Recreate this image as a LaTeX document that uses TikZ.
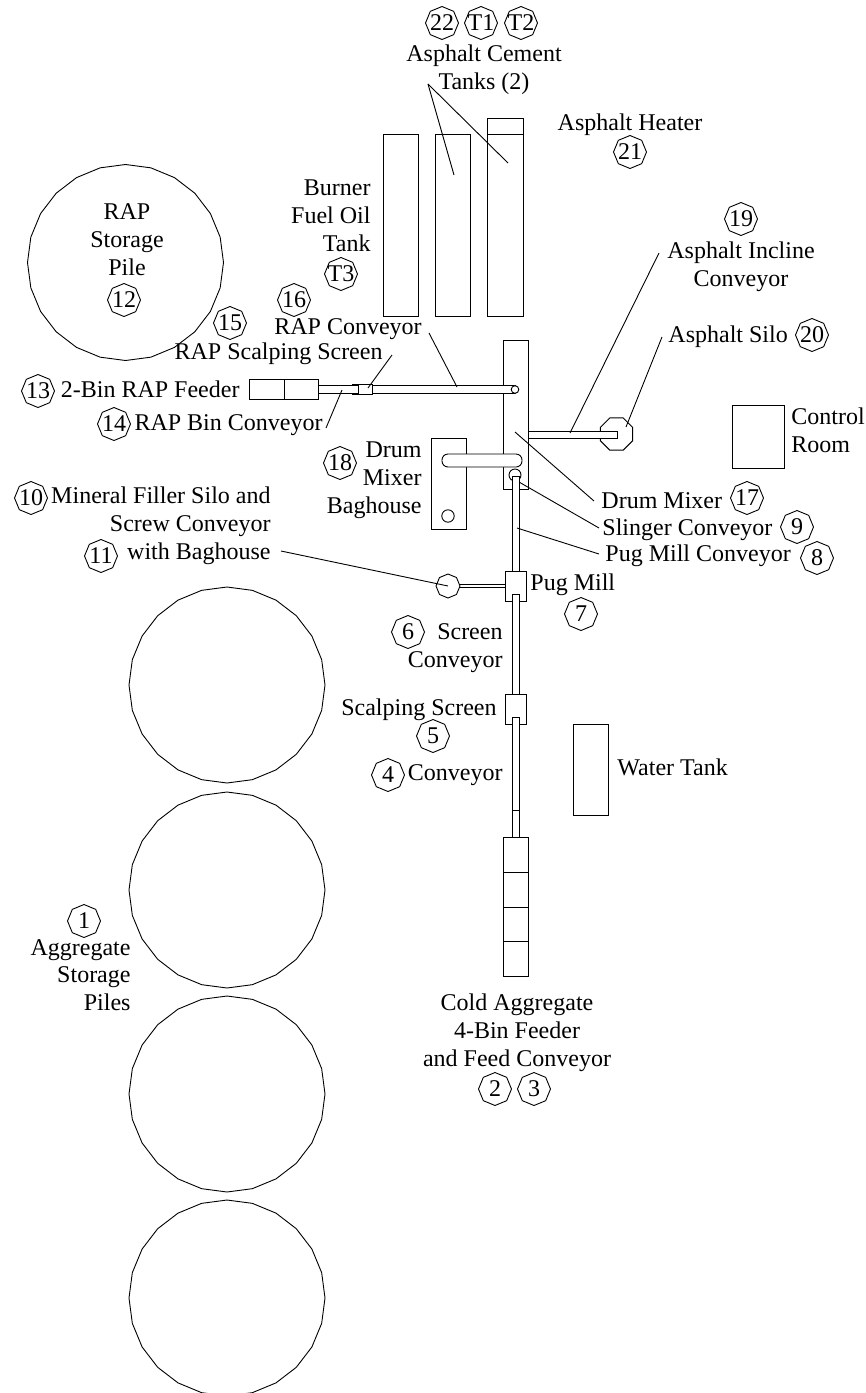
\documentclass[tikz,border=0pt]{standalone}
\usepackage{fontspec}
\setmainfont{Liberation Serif}
\usepackage{tikz}
\usetikzlibrary{shapes.geometric}
\tikzset{
    plantfont/.style={font=\fontsize{24}{27.8}\selectfont, inner sep=0pt},
    plantlabel/.style={plantfont, yshift=-2.5pt},
    badge/.style={plantfont, draw, regular polygon, regular polygon sides=8, regular polygon rotate=22.5, minimum size=33pt},
    pile/.style={draw, regular polygon, regular polygon sides=24, regular polygon rotate=7.5, minimum size=196pt, inner sep=0pt},
    unit/.style={draw, fill=white}
}

\begin{document}
\begin{tikzpicture}[x=1pt, y=-1pt, line width=0.9pt]
    \useasboundingbox (0,0) rectangle (866,1393);

    % Storage piles
    \node[pile] (rappile) at (125.5,262.5) {};
    \node[pile] (pileA) at (227,685) {};
    \node[pile] (pileB) at (227,890) {};
    \node[pile] (pileC) at (227,1094) {};
    \node[pile] (pileD) at (227,1298) {};

    % Tanks
    \draw[unit] (383,134.5) rectangle (418,316);
    \draw[unit] (435.5,134.5) rectangle (470.5,316);
    \draw[unit] (487.5,118) rectangle (523,316);
    \draw (487.5,134.5) -- (523,134.5);

    % Drum mixer and baghouse
    \draw[unit] (431,438) rectangle (466,529);
    \draw (448,516) circle (6.2);
    \draw[unit] (503,340) rectangle (528,489);
    \draw[unit, rounded corners=6pt] (442,454) rectangle (522,467);

    % RAP feeder and conveyors
    \draw[unit] (249,379) rectangle (318,399);
    \draw (284,379) -- (284,399);
    \draw[unit] (318,385.5) rectangle (358,393);
    \draw (358,384.5) -- (352,384.5) (352,394) -- (358,394);
    \draw[unit] (372,385.5) rectangle (515,393);
    \draw[unit] (358,384.5) rectangle (372,394);
    \draw[unit] (515,389.5) circle (3.8);

    % Asphalt silo and incline conveyor
    \node[draw, fill=white, regular polygon, regular polygon sides=8, minimum size=35pt, inner sep=0pt] (silo) at (616.5,434) {};
    \draw[unit] (528,431) rectangle (617,438);

    % Cold feed line
    \draw (515,475) circle (6);
    \draw[unit] (512,476) rectangle (519,571);
    \node[badge, minimum size=24pt] (filler) at (448,586) {};
    \draw (460,584.5) -- (505,584.5) (460,587.5) -- (505,587.5);
    \draw[unit] (505,571) rectangle (526,601);
    \draw[unit] (512,594) rectangle (519,694);
    \draw[unit] (505,694) rectangle (526,724);
    \draw[unit] (512,717) rectangle (519,837);
    \draw (512,810) -- (519,810);
    \draw[unit] (503,837) rectangle (528,976);
    \draw (503,872) -- (528,872) (503,907) -- (528,907) (503,941.5) -- (528,941.5);

    % Water tank and control room
    \draw[unit] (573,724) rectangle (608,815);
    \draw[unit] (732,405) rectangle (784,468);

    % Labels
    \node[plantlabel, align=center] (tankstext) at (484,67) {Asphalt Cement\\Tanks (2)};
    \node[plantlabel] (heatertext) at (630,122) {Asphalt Heater};
    \node[plantlabel, align=right, anchor=east] (burnertext) at (371,213) {Burner\\Fuel Oil\\Tank};
    \node[plantlabel, align=center] (raptext) at (127,237) {RAP\\Storage\\Pile};
    \node[plantlabel] (rapconvtext) at (348,327) {RAP Conveyor};
    \node[plantlabel, anchor=east] (scalptext) at (383,351) {RAP Scalping Screen};
    \node[plantlabel, anchor=east] (feedertext) at (240,387) {2-Bin RAP Feeder};
    \node[plantlabel, anchor=east] (binconvtext) at (323,423) {RAP Bin Conveyor};
    \node[plantlabel, align=right, anchor=east] (baghousetext) at (422,478) {Drum\\Mixer\\Baghouse};
    \node[plantlabel, align=right, anchor=east] (fillertext) at (271,523) {Mineral Filler Silo and\\Screw Conveyor\\with Baghouse};
    \node[plantlabel, anchor=west] (pugtext) at (530,582) {Pug Mill};
    \node[plantlabel, align=right, anchor=east] (screentext) at (503,645.5) {Screen\\Conveyor};
    \node[plantlabel, anchor=east] (sstext) at (497,707) {Scalping Screen};
    \node[plantlabel, anchor=east] (convtext) at (503,773) {Conveyor};
    \node[plantlabel, anchor=west] (watertext) at (617,765) {Water Tank};
    \node[plantlabel, align=left, anchor=west] (controltext) at (791,428) {Control\\Room};
    \node[plantlabel, anchor=west] (drumtext) at (601,498) {Drum Mixer};
    \node[plantlabel, anchor=west] (slingertext) at (602,527) {Slinger Conveyor};
    \node[plantlabel, anchor=west] (pugconvtext) at (605,553) {Pug Mill Conveyor};
    \node[plantlabel, anchor=west] (silotext) at (668,334) {Asphalt Silo};
    \node[plantlabel, align=center] (inclinetext) at (741,264) {Asphalt Incline\\Conveyor};
    \node[plantlabel, align=right, anchor=east] (aggtext) at (131,972.5) {Aggregate\\Storage\\Piles};
    \node[plantlabel, align=center] (coldtext) at (517,1030) {Cold Aggregate\\4-Bin Feeder\\and Feed Conveyor};

    % Numbered badges
    \foreach \x/\y/\t in {442/23/22, 481/23/T1, 521/23/T2, 630/152/21, 124/300/12, 230/323/15,
        294/300/16, 341/274/T3, 38/391/13, 114/424/14, 340/463/18, 741/219/19, 812/335/20,
        747/498/17, 797/527/9, 817/558/8, 581/614/7, 31/498/10, 101/556/11, 408/632/6,
        433/736/5, 388/775/4, 84/921/1, 495/1089/2, 534/1089/3}
        \node[badge] (b\t) at (\x,\y) {\makebox[0pt]{\t}};

    % Leader ends
    \coordinate (tankapex) at (428,84);
    \coordinate (tankA) at (454,175);
    \coordinate (tankB) at (508,163);
    \coordinate (rapconvA) at (429,333);
    \coordinate (rapconvB) at (457,387);
    \coordinate (scalpA) at (392,355);
    \coordinate (scalpB) at (368,388);
    \coordinate (binA) at (326,428);
    \coordinate (binB) at (342,390);
    \coordinate (inclineA) at (659,253);
    \coordinate (inclineB) at (570,433);
    \coordinate (siloA) at (662,337);
    \coordinate (siloB) at (626,427);
    \coordinate (drumA) at (515,432);
    \coordinate (drumB) at (594,501);
    \coordinate (slingerA) at (519,482);
    \coordinate (slingerB) at (599,528);
    \coordinate (pugA) at (517,528);
    \coordinate (pugB) at (599,554);
    \coordinate (fillerA) at (281,551);

    % Leaders
    \draw (tankapex) -- (tankA);
    \draw (tankapex) -- (tankB);
    \draw (rapconvA) -- (rapconvB);
    \draw (scalpA) -- (scalpB);
    \draw (binA) -- (binB);
    \draw (inclineA) -- (inclineB);
    \draw (siloA) -- (siloB);
    \draw (drumA) -- (drumB);
    \draw (slingerA) -- (slingerB);
    \draw (pugA) -- (pugB);
    \draw (fillerA) -- (filler.center);
\end{tikzpicture}
\end{document}
